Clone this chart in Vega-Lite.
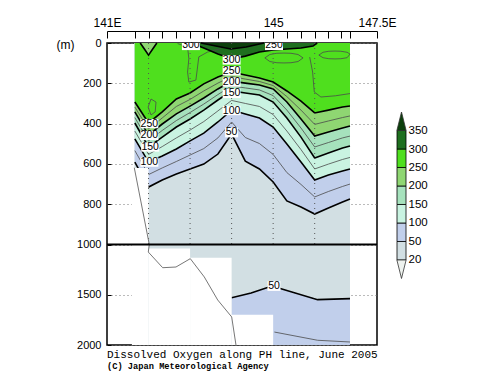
{
  "$schema": "https://vega.github.io/schema/vega-lite/v6.json",
  "autosize": {"type": "pad"},
  "padding": {"left": 55, "top": 15, "right": 0, "bottom": 0},
  "background": "white",
  "bounds": "flush",
  "spacing": 20,
  "title": {
    "text": "Dissolved Oxygen along PH line, June 2005",
    "subtitle": "(C) Japan Meteorological Agency",
    "orient": "bottom", "anchor": "start", "frame": "group",
    "font": "Liberation Mono", "fontSize": 11, "fontWeight": "normal", "color": "black",
    "subtitleFont": "Liberation Mono", "subtitleFontSize": 8.7, "subtitleFontWeight": "bold", "subtitleColor": "black",
    "offset": -2, "subtitlePadding": 2
  },
  "datasets": {
    "base": [{"lon1": 141.66, "lon2": 146.85, "d1": 0, "d2": 2000}],
    "iso": [
      {"v":250,"lon":141.67,"d":293},{"v":250,"lon":142.0,"d":397},{"v":250,"lon":142.33,"d":342},{"v":250,"lon":142.67,"d":278},{"v":250,"lon":143.0,"d":248},{"v":250,"lon":143.33,"d":203},{"v":250,"lon":143.67,"d":169},{"v":250,"lon":144.0,"d":144},{"v":250,"lon":144.33,"d":159},{"v":250,"lon":144.67,"d":174},{"v":250,"lon":145.0,"d":194},{"v":250,"lon":145.33,"d":238},{"v":250,"lon":145.67,"d":288},{"v":250,"lon":146.0,"d":347},{"v":250,"lon":146.33,"d":333},{"v":250,"lon":146.67,"d":318},{"v":250,"lon":146.85,"d":313},
      {"v":225,"lon":141.67,"d":318},{"v":225,"lon":142.0,"d":427},{"v":225,"lon":142.33,"d":372},{"v":225,"lon":142.67,"d":315},{"v":225,"lon":143.0,"d":280},{"v":225,"lon":143.33,"d":238},{"v":225,"lon":143.67,"d":199},{"v":225,"lon":144.0,"d":166},{"v":225,"lon":144.33,"d":179},{"v":225,"lon":144.67,"d":191},{"v":225,"lon":145.0,"d":211},{"v":225,"lon":145.33,"d":266},{"v":225,"lon":145.67,"d":333},{"v":225,"lon":146.0,"d":404},{"v":225,"lon":146.33,"d":387},{"v":225,"lon":146.67,"d":370},{"v":225,"lon":146.85,"d":362},
      {"v":200,"lon":141.67,"d":342},{"v":200,"lon":142.0,"d":457},{"v":200,"lon":142.33,"d":402},{"v":200,"lon":142.67,"d":352},{"v":200,"lon":143.0,"d":313},{"v":200,"lon":143.33,"d":273},{"v":200,"lon":143.67,"d":228},{"v":200,"lon":144.0,"d":189},{"v":200,"lon":144.33,"d":199},{"v":200,"lon":144.67,"d":208},{"v":200,"lon":145.0,"d":228},{"v":200,"lon":145.33,"d":293},{"v":200,"lon":145.67,"d":377},{"v":200,"lon":146.0,"d":462},{"v":200,"lon":146.33,"d":442},{"v":200,"lon":146.67,"d":422},{"v":200,"lon":146.85,"d":412},
      {"v":175,"lon":141.67,"d":370},{"v":175,"lon":142.0,"d":486},{"v":175,"lon":142.33,"d":434},{"v":175,"lon":142.67,"d":385},{"v":175,"lon":143.0,"d":345},{"v":175,"lon":143.33,"d":303},{"v":175,"lon":143.67,"d":256},{"v":175,"lon":144.0,"d":213},{"v":175,"lon":144.33,"d":223},{"v":175,"lon":144.67,"d":233},{"v":175,"lon":145.0,"d":261},{"v":175,"lon":145.33,"d":333},{"v":175,"lon":145.67,"d":422},{"v":175,"lon":146.0,"d":516},{"v":175,"lon":146.33,"d":494},{"v":175,"lon":146.67,"d":471},{"v":175,"lon":146.85,"d":462},
      {"v":150,"lon":141.67,"d":397},{"v":150,"lon":142.0,"d":516},{"v":150,"lon":142.33,"d":467},{"v":150,"lon":142.67,"d":417},{"v":150,"lon":143.0,"d":377},{"v":150,"lon":143.33,"d":333},{"v":150,"lon":143.67,"d":283},{"v":150,"lon":144.0,"d":238},{"v":150,"lon":144.33,"d":248},{"v":150,"lon":144.67,"d":258},{"v":150,"lon":145.0,"d":293},{"v":150,"lon":145.33,"d":372},{"v":150,"lon":145.67,"d":467},{"v":150,"lon":146.0,"d":571},{"v":150,"lon":146.33,"d":546},{"v":150,"lon":146.67,"d":521},{"v":150,"lon":146.85,"d":511},
      {"v":125,"lon":141.67,"d":437},{"v":125,"lon":142.0,"d":553},{"v":125,"lon":142.33,"d":514},{"v":125,"lon":142.67,"d":471},{"v":125,"lon":143.0,"d":432},{"v":125,"lon":143.33,"d":390},{"v":125,"lon":143.67,"d":337},{"v":125,"lon":144.0,"d":285},{"v":125,"lon":144.33,"d":300},{"v":125,"lon":144.67,"d":315},{"v":125,"lon":145.0,"d":355},{"v":125,"lon":145.33,"d":437},{"v":125,"lon":145.67,"d":529},{"v":125,"lon":146.0,"d":625},{"v":125,"lon":146.33,"d":601},{"v":125,"lon":146.67,"d":578},{"v":125,"lon":146.85,"d":568},
      {"v":100,"lon":141.67,"d":476},{"v":100,"lon":142.0,"d":591},{"v":100,"lon":142.33,"d":561},{"v":100,"lon":142.67,"d":526},{"v":100,"lon":143.0,"d":486},{"v":100,"lon":143.33,"d":447},{"v":100,"lon":143.67,"d":392},{"v":100,"lon":144.0,"d":333},{"v":100,"lon":144.33,"d":352},{"v":100,"lon":144.67,"d":372},{"v":100,"lon":145.0,"d":417},{"v":100,"lon":145.33,"d":501},{"v":100,"lon":145.67,"d":591},{"v":100,"lon":146.0,"d":680},{"v":100,"lon":146.33,"d":655},{"v":100,"lon":146.67,"d":635},{"v":100,"lon":146.85,"d":625},
      {"v":75,"lon":141.67,"d":534},{"v":75,"lon":142.0,"d":653},{"v":75,"lon":142.33,"d":620},{"v":75,"lon":142.67,"d":588},{"v":75,"lon":143.0,"d":556},{"v":75,"lon":143.33,"d":524},{"v":75,"lon":143.67,"d":471},{"v":75,"lon":144.0,"d":392},{"v":75,"lon":144.33,"d":469},{"v":75,"lon":144.67,"d":499},{"v":75,"lon":145.0,"d":553},{"v":75,"lon":145.33,"d":643},{"v":75,"lon":145.67,"d":702},{"v":75,"lon":146.0,"d":764},{"v":75,"lon":146.33,"d":737},{"v":75,"lon":146.67,"d":712},{"v":75,"lon":146.85,"d":700},
      {"v":50,"lon":141.67,"d":591},{"v":50,"lon":142.0,"d":715},{"v":50,"lon":142.33,"d":680},{"v":50,"lon":142.67,"d":650},{"v":50,"lon":143.0,"d":625},{"v":50,"lon":143.33,"d":601},{"v":50,"lon":143.67,"d":551},{"v":50,"lon":144.0,"d":452},{"v":50,"lon":144.33,"d":586},{"v":50,"lon":144.67,"d":625},{"v":50,"lon":145.0,"d":690},{"v":50,"lon":145.33,"d":784},{"v":50,"lon":145.67,"d":814},{"v":50,"lon":146.0,"d":849},{"v":50,"lon":146.33,"d":819},{"v":50,"lon":146.67,"d":789},{"v":50,"lon":146.85,"d":774}
    ],
    "wedge": [
      {"k":"300","lon":143.02,"d":0},{"k":"300","lon":143.33,"d":25},{"k":"300","lon":143.67,"d":55},{"k":"300","lon":144.0,"d":79},{"k":"300","lon":144.33,"d":65},{"k":"300","lon":144.67,"d":45},{"k":"300","lon":145.0,"d":35},{"k":"300","lon":145.33,"d":30},{"k":"300","lon":145.67,"d":25},{"k":"300","lon":145.96,"d":15},{"k":"300","lon":146.06,"d":0},
      {"k":"350","lon":143.26,"d":0},{"k":"350","lon":143.62,"d":15},{"k":"350","lon":143.98,"d":30},{"k":"350","lon":144.35,"d":20},{"k":"350","lon":144.78,"d":0},
      {"k":"pocket","lon":141.8,"d":0},{"k":"pocket","lon":141.9,"d":30},{"k":"pocket","lon":142.0,"d":60},{"k":"pocket","lon":142.1,"d":30},{"k":"pocket","lon":142.2,"d":0}
    ],
    "paths": [
      {"p":"f1","i":0,"lon":142.70,"d":3},{"p":"f1","i":1,"lon":142.94,"d":20},{"p":"f1","i":2,"lon":142.97,"d":78},{"p":"f1","i":3,"lon":142.94,"d":144},{"p":"f1","i":4,"lon":142.97,"d":194},{"p":"f1","i":5,"lon":143.14,"d":184},{"p":"f1","i":6,"lon":143.18,"d":119},{"p":"f1","i":7,"lon":143.21,"d":69},{"p":"f1","i":8,"lon":143.42,"d":45},{"p":"f1","i":9,"lon":143.74,"d":28},
      {"p":"e1","i":0,"lon":144.80,"d":74},{"p":"e1","i":1,"lon":144.92,"d":57},{"p":"e1","i":2,"lon":145.09,"d":51},{"p":"e1","i":3,"lon":145.26,"d":50},{"p":"e1","i":4,"lon":145.43,"d":51},{"p":"e1","i":5,"lon":145.60,"d":57},{"p":"e1","i":6,"lon":145.72,"d":74},{"p":"e1","i":7,"lon":145.60,"d":92},{"p":"e1","i":8,"lon":145.43,"d":98},{"p":"e1","i":9,"lon":145.26,"d":99},{"p":"e1","i":10,"lon":145.09,"d":98},{"p":"e1","i":11,"lon":144.92,"d":92},{"p":"e1","i":12,"lon":144.80,"d":74},
      {"p":"e2","i":0,"lon":146.10,"d":60},{"p":"e2","i":1,"lon":146.20,"d":46},{"p":"e2","i":2,"lon":146.34,"d":41},{"p":"e2","i":3,"lon":146.49,"d":40},{"p":"e2","i":4,"lon":146.63,"d":41},{"p":"e2","i":5,"lon":146.78,"d":46},{"p":"e2","i":6,"lon":146.85,"d":55},{"p":"e2","i":7,"lon":146.78,"d":73},{"p":"e2","i":8,"lon":146.63,"d":78},{"p":"e2","i":9,"lon":146.49,"d":79},{"p":"e2","i":10,"lon":146.34,"d":78},{"p":"e2","i":11,"lon":146.20,"d":73},{"p":"e2","i":12,"lon":146.10,"d":60},
      {"p":"r1","i":0,"lon":145.88,"d":70},{"p":"r1","i":1,"lon":145.95,"d":144},{"p":"r1","i":2,"lon":145.99,"d":243},{"p":"r1","i":3,"lon":146.15,"d":268},{"p":"r1","i":4,"lon":146.5,"d":262},{"p":"r1","i":5,"lon":146.85,"d":251},
      {"p":"v1","i":0,"lon":141.99,"d":318},{"p":"v1","i":1,"lon":142.06,"d":278},{"p":"v1","i":2,"lon":142.18,"d":293},{"p":"v1","i":3,"lon":142.16,"d":342},{"p":"v1","i":4,"lon":142.06,"d":357},{"p":"v1","i":5,"lon":141.99,"d":318},
      {"p":"deep75","i":0,"lon":145.03,"d":1871},{"p":"deep75","i":1,"lon":146.07,"d":1953},{"p":"deep75","i":2,"lon":146.85,"d":1970},
      {"p":"deep50","i":0,"lon":144.0,"d":1529},{"p":"deep50","i":1,"lon":144.47,"d":1483},{"p":"deep50","i":2,"lon":144.9,"d":1423},{"p":"deep50","i":3,"lon":145.0,"d":1418},{"p":"deep50","i":4,"lon":145.19,"d":1440},{"p":"deep50","i":5,"lon":146.07,"d":1549},{"p":"deep50","i":6,"lon":146.85,"d":1539}
    ],
    "nodata": [
      {"lon1":141.6,"lon2":142.0,"d1":620,"d2":2000},
      {"lon1":142.0,"lon2":143.0,"d1":1040,"d2":2000},
      {"lon1":143.0,"lon2":144.0,"d1":1132,"d2":2000},
      {"lon1":144.0,"lon2":145.0,"d1":1700,"d2":2000}
    ],
    "topo": [
      {"i":0,"lon":141.657,"d":619},{"i":1,"lon":142.018,"d":1000},{"i":2,"lon":141.994,"d":1075},{"i":3,"lon":142.341,"d":1231},{"i":4,"lon":142.661,"d":1224},{"i":5,"lon":143.005,"d":1141},{"i":6,"lon":143.342,"d":1323},{"i":7,"lon":143.665,"d":1552},{"i":8,"lon":144.002,"d":1721},{"i":9,"lon":144.105,"d":2000}
    ],
    "grid": [{"lon":142},{"lon":143},{"lon":144},{"lon":145},{"lon":146}],
    "labels": [
      {"t":"300","lon":144.0,"d":84},{"t":"250","lon":144.0,"d":138},{"t":"200","lon":144.0,"d":194},{"t":"150","lon":144.0,"d":250},{"t":"100","lon":144.0,"d":335},{"t":"50","lon":144.0,"d":444},
      {"t":"250","lon":142.02,"d":400},{"t":"200","lon":142.02,"d":459},{"t":"150","lon":142.04,"d":516},{"t":"100","lon":142.02,"d":591},
      {"t":"300","lon":143.02,"d":12},{"t":"250","lon":145.02,"d":12},{"t":"50","lon":145.02,"d":1413}
    ],
    "leg": [
      {"k":"20-50","lo":0,"hi":1},{"k":"50-100","lo":1,"hi":2},{"k":"100-150","lo":2,"hi":3},{"k":"150-200","lo":3,"hi":4},{"k":"200-250","lo":4,"hi":5},{"k":"250-300","lo":5,"hi":6},{"k":"300-350","lo":6,"hi":7}
    ],
    "legtri": [{"k":">350","u":7.5},{"k":"<20","u":-0.5}]
  },
  "hconcat": [
    {
      "width": 270,
      "height": 302,
      "view": {"stroke": "black", "strokeWidth": 1.5},
      "layer": [
        {
          "data": {"name": "base"},
          "mark": {"type": "rect", "color": "#d2dfe3"},
          "encoding": {
            "x": {"field": "lon1", "type": "quantitative",
              "scale": {"domain": [141, 147.5], "nice": false, "zero": false},
              "axis": {"orient": "top", "offset": 12, "tickCount": 100,
                "values": [141, 141.67, 142, 142.33, 142.67, 143, 143.33, 143.67, 144, 144.33, 144.67, 145, 145.33, 145.67, 146, 146.33, 146.63, 146.85, 147.5],
                "labelExpr": "datum.value < 141.1 ? '141E' : (abs(datum.value - 145) < 0.01 ? '145' : (datum.value > 147.4 ? '147.5E' : ''))",
                "tickSize": -7, "labelPadding": 9, "grid": false, "title": null,
                "labelFontSize": 12, "labelFlush": false, "labelOverlap": false, "labelBound": false,
                "domainWidth": 1, "domainColor": "black", "tickColor": "black"}},
            "x2": {"field": "lon2"},
            "y": {"field": "d1", "type": "quantitative",
              "scale": {"domain": [0, 1000, 2000], "range": [0, 201.5, 302], "nice": false, "zero": false},
              "axis": {"orient": "left", "values": [0, 200, 400, 600, 800, 1000, 1500, 2000], "format": "d", "tickCount": 100,
                "grid": true, "gridDash": [1, 3], "gridColor": "#777", "gridWidth": 1,
                "tickSize": -4, "tickColor": "black", "labelPadding": 10, "labelFontSize": 11,
                "domain": false, "labelOverlap": false, "labelFlush": false,
                "title": "(m)", "titleAngle": 0, "titleX": -51, "titleY": 1.5, "titleAlign": "left",
                "titleBaseline": "middle", "titleFontSize": 12, "titleFontWeight": "normal", "titleFont": "Liberation Sans", "titleColor": "black"}},
            "y2": {"field": "d2"}
          }
        },
        {"data": {"name": "iso"}, "transform": [{"filter": "datum.v == 50"}], "mark": {"type": "area", "color": "#c1cfeb"},
         "encoding": {"x": {"field": "lon", "type": "quantitative"}, "y": {"field": "d", "type": "quantitative"}, "y2": {"datum": 0}}},
        {"data": {"name": "iso"}, "transform": [{"filter": "datum.v == 100"}], "mark": {"type": "area", "color": "#c9f3e1"},
         "encoding": {"x": {"field": "lon", "type": "quantitative"}, "y": {"field": "d", "type": "quantitative"}, "y2": {"datum": 0}}},
        {"data": {"name": "iso"}, "transform": [{"filter": "datum.v == 150"}], "mark": {"type": "area", "color": "#a6e2bd"},
         "encoding": {"x": {"field": "lon", "type": "quantitative"}, "y": {"field": "d", "type": "quantitative"}, "y2": {"datum": 0}}},
        {"data": {"name": "iso"}, "transform": [{"filter": "datum.v == 200"}], "mark": {"type": "area", "color": "#8fd672"},
         "encoding": {"x": {"field": "lon", "type": "quantitative"}, "y": {"field": "d", "type": "quantitative"}, "y2": {"datum": 0}}},
        {"data": {"name": "iso"}, "transform": [{"filter": "datum.v == 250"}], "mark": {"type": "area", "color": "#4fdf1e"},
         "encoding": {"x": {"field": "lon", "type": "quantitative"}, "y": {"field": "d", "type": "quantitative"}, "y2": {"datum": 0}}},
        {"data": {"name": "wedge"}, "transform": [{"filter": "datum.k == 'pocket'"}], "mark": {"type": "area", "color": "#8fd672"},
         "encoding": {"x": {"field": "lon", "type": "quantitative"}, "y": {"field": "d", "type": "quantitative"}, "y2": {"datum": 0}}},
        {"data": {"name": "wedge"}, "transform": [{"filter": "datum.k == '300'"}], "mark": {"type": "area", "color": "#1f6f1f"},
         "encoding": {"x": {"field": "lon", "type": "quantitative"}, "y": {"field": "d", "type": "quantitative"}, "y2": {"datum": 0}}},
        {"data": {"name": "wedge"}, "transform": [{"filter": "datum.k == '350'"}], "mark": {"type": "area", "color": "#0c3f0c"},
         "encoding": {"x": {"field": "lon", "type": "quantitative"}, "y": {"field": "d", "type": "quantitative"}, "y2": {"datum": 0}}},
        {"data": {"name": "paths"}, "transform": [{"filter": "datum.p == 'deep50'"}], "mark": {"type": "area", "color": "#c1cfeb"},
         "encoding": {"x": {"field": "lon", "type": "quantitative"}, "y": {"field": "d", "type": "quantitative"}, "y2": {"datum": 2000}}},
        {"data": {"name": "iso"}, "transform": [{"filter": "datum.v % 50 != 0"}], "mark": {"type": "line", "color": "#4a4a4a", "strokeWidth": 0.8},
         "encoding": {"x": {"field": "lon", "type": "quantitative"}, "y": {"field": "d", "type": "quantitative"}, "detail": {"field": "v", "type": "nominal"}}},
        {"data": {"name": "iso"}, "transform": [{"filter": "datum.v % 50 == 0"}], "mark": {"type": "line", "color": "black", "strokeWidth": 1.6},
         "encoding": {"x": {"field": "lon", "type": "quantitative"}, "y": {"field": "d", "type": "quantitative"}, "detail": {"field": "v", "type": "nominal"}}},
        {"data": {"name": "paths"}, "transform": [{"filter": "datum.p != 'deep50'"}], "mark": {"type": "line", "color": "#4a4a4a", "strokeWidth": 0.8},
         "encoding": {"x": {"field": "lon", "type": "quantitative"}, "y": {"field": "d", "type": "quantitative"}, "detail": {"field": "p", "type": "nominal"}, "order": {"field": "i", "type": "quantitative"}}},
        {"data": {"name": "paths"}, "transform": [{"filter": "datum.p == 'deep50'"}], "mark": {"type": "line", "color": "black", "strokeWidth": 1.6},
         "encoding": {"x": {"field": "lon", "type": "quantitative"}, "y": {"field": "d", "type": "quantitative"}, "order": {"field": "i", "type": "quantitative"}}},
        {"data": {"name": "wedge"}, "mark": {"type": "line", "color": "black", "strokeWidth": 1.6},
         "encoding": {"x": {"field": "lon", "type": "quantitative"}, "y": {"field": "d", "type": "quantitative"}, "detail": {"field": "k", "type": "nominal"}}},
        {"data": {"name": "nodata"}, "mark": {"type": "rect", "color": "white"},
         "encoding": {"x": {"field": "lon1", "type": "quantitative"}, "x2": {"field": "lon2"}, "y": {"field": "d1", "type": "quantitative"}, "y2": {"field": "d2"}}},
        {"data": {"name": "grid"}, "mark": {"type": "rule", "color": "#555", "strokeDash": [1, 4], "strokeWidth": 1},
         "encoding": {"x": {"field": "lon", "type": "quantitative"}, "y": {"datum": 0}, "y2": {"datum": 1000}}},
        {"data": {"name": "topo"}, "mark": {"type": "line", "color": "#777", "strokeWidth": 1},
         "encoding": {"x": {"field": "lon", "type": "quantitative"}, "y": {"field": "d", "type": "quantitative"}, "order": {"field": "i", "type": "quantitative"}}},
        {"data": {"name": "base"}, "mark": {"type": "rule", "color": "black", "strokeWidth": 2},
         "encoding": {"y": {"datum": 1000}}},
        {"data": {"name": "labels"}, "transform": [{"filter": "length(datum.t) == 3"}],
         "mark": {"type": "point", "shape": "M-1,-0.52L1,-0.52L1,0.52L-1,0.52Z", "size": 324, "filled": true, "color": "white", "opacity": 1, "strokeWidth": 0, "clip": true},
         "encoding": {"x": {"field": "lon", "type": "quantitative"}, "y": {"field": "d", "type": "quantitative"}}},
        {"data": {"name": "labels"}, "transform": [{"filter": "length(datum.t) == 2"}],
         "mark": {"type": "point", "shape": "M-1,-0.75L1,-0.75L1,0.75L-1,0.75Z", "size": 169, "filled": true, "color": "white", "opacity": 1, "strokeWidth": 0, "clip": true},
         "encoding": {"x": {"field": "lon", "type": "quantitative"}, "y": {"field": "d", "type": "quantitative"}}},
        {"data": {"name": "labels"},
         "mark": {"type": "text", "font": "Liberation Sans", "fontSize": 10.5, "color": "black", "clip": true, "align": "center", "baseline": "middle"},
         "encoding": {"x": {"field": "lon", "type": "quantitative"}, "y": {"field": "d", "type": "quantitative"}, "text": {"field": "t"}}}
      ]
    },
    {
      "width": 9,
      "height": 302,
      "view": {"stroke": null},
      "layer": [
        {"data": {"name": "leg"},
         "mark": {"type": "rect", "stroke": "black", "strokeWidth": 0.8},
         "encoding": {
           "x": {"datum": 0, "type": "quantitative", "scale": {"domain": [0, 1], "nice": false, "zero": false}, "axis": null},
           "x2": {"datum": 1},
           "y": {"field": "lo", "type": "quantitative", "scale": {"domain": [-4.595, 11.73], "nice": false, "zero": false},
             "axis": {"orient": "right", "values": [0, 1, 2, 3, 4, 5, 6, 7], "tickCount": 100,
               "labelExpr": "datum.value == 0 ? '20' : '' + datum.value * 50",
               "ticks": false, "domain": false, "grid": false, "title": null, "labelPadding": 2,
               "labelFontSize": 11.5, "labelOverlap": false, "labelFlush": false}},
           "y2": {"field": "hi"},
           "fill": {"field": "k", "type": "nominal", "legend": null,
             "scale": {"domain": ["<20", "20-50", "50-100", "100-150", "150-200", "200-250", "250-300", "300-350", ">350"],
               "range": ["#eef2ee", "#d2dfe3", "#c1cfeb", "#c9f3e1", "#a6e2bd", "#8fd672", "#4fdf1e", "#1f6f1f", "#0c3f0c"]}}
         }},
        {"data": {"name": "legtri"},
         "mark": {"type": "point", "filled": true, "opacity": 1, "stroke": "#333", "strokeWidth": 0.8, "size": 342},
         "encoding": {
           "x": {"datum": 0.5, "type": "quantitative"},
           "y": {"field": "u", "type": "quantitative"},
           "shape": {"field": "k", "type": "nominal", "legend": null,
             "scale": {"domain": [">350", "<20"], "range": ["M-0.5,1L0,-1L0.5,1Z", "M-0.5,-1L0,1L0.5,-1Z"]}},
           "fill": {"field": "k", "type": "nominal", "legend": null}
         }}
      ]
    }
  ],
  "config": {
    "axis": {"labelFont": "Liberation Sans", "labelColor": "black", "tickColor": "black", "domainColor": "black"},
    "title": {"color": "black"}
  }
}
